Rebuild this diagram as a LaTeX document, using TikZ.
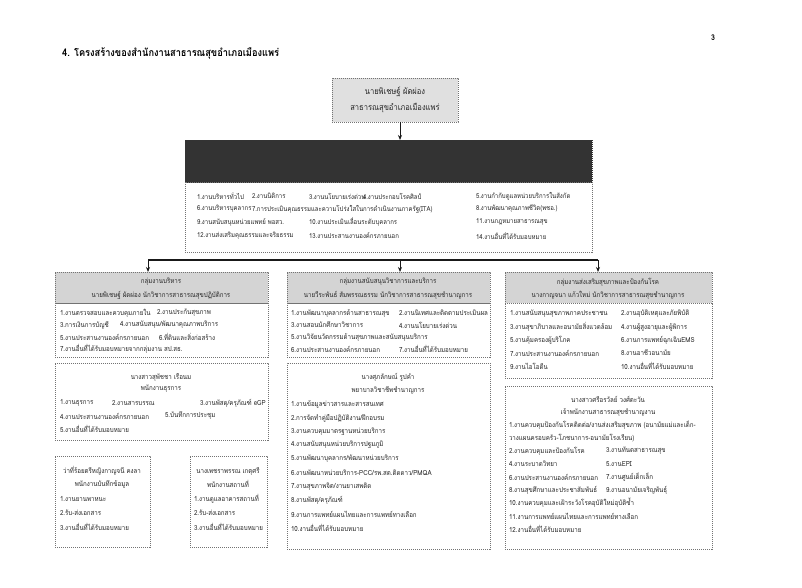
\documentclass[tikz,border=0pt]{standalone}
\usepackage{fontspec}
\setmainfont{Liberation Serif}
\newfontfamily\thai[Script=Thai,FakeStretch=0.88]{Loma}
\usetikzlibrary{arrows.meta}
\begin{document}
\begin{tikzpicture}[x=1pt,y=-1pt,
  tx/.style={font=\thai\fontsize{7.0}{8}\selectfont, inner sep=0pt, outer sep=0pt, anchor=west, text=black!85},
  txc/.style={tx, anchor=center},
  bx/.style={tx, font=\thai\fontsize{6.8}{8}\selectfont},
  frame/.style={draw=black!55, line width=0.6pt, dash pattern=on 1.2pt off 0.8pt, inner sep=0pt, outer sep=0pt, anchor=north west},
  band/.style={frame, fill=black!17},
  conn/.style={draw=black!90, line width=1.3pt},
  arr/.style={draw=black!90, line width=0.9pt, -{Stealth[length=5pt,width=4pt]}},
]
\useasboundingbox[fill=white] (0,0) rectangle (802,588);

% title and page number
\node[font=\thai\bfseries\fontsize{10.5}{12}\selectfont, anchor=west, inner sep=0pt] (title) at (62,53) {4. โครงสร้างของสำนักงานสาธารณสุขอำเภอเมืองแพร่};
\node[font=\thai\bfseries\fontsize{8}{9}\selectfont, inner sep=0pt] (page) at (713,38) {3};

% top box
\node[band, fill=black!12, minimum width=126, minimum height=44] (top) at (332,78) {};
\node[txc, font=\thai\fontsize{8.6}{10}\selectfont] (top1) at (395,92) {นายพิเชษฐ์  ผัดผ่อง};
\node[txc, font=\thai\fontsize{8.6}{10}\selectfont] (top2) at (395,108) {สาธารณสุขอำเภอเมืองแพร่};

% black bar and its list
\node[frame, fill=black!80, draw=black!80, minimum width=407, minimum height=42] (bar) at (185,140) {};
\node[frame, minimum width=407, minimum height=70] (barlist) at (185,182) {};
\coordinate (ax) at (400,130);
\draw[arr] (top.south -| ax) -- (bar.north -| ax);

\node[bx] (b1) at (197,196) {1.งานบริหารทั่วไป};
\node[bx] (b2) at (252,196) {2.งานนิติการ};
\node[bx] (b3) at (309,196) {3.งานนโยบายเร่งด่วน};
\node[bx] (b4) at (363,196) {4.งานประกอบโรคศิลป์};
\node[bx] (b5) at (476,196) {5.งานกำกับดูแลหน่วยบริการในสังกัด};
\node[bx] (b6) at (197,209) {6.งานบริหารบุคลากร};
\node[bx] (b7) at (252,209) {7.การประเมินคุณธรรมและความโปร่งใสในการดำเนินงานภาครัฐ(ITA)};
\node[bx] (b8) at (476,209) {8.งานพัฒนาคุณภาพชีวิต(พชอ.)};
\node[bx] (b9) at (197,222) {9.งานสนับสนุนหน่วยแพทย์ พอสว.};
\node[bx] (b10) at (309,222) {10.งานประเมินเลื่อนระดับบุคลากร};
\node[bx] (b11) at (476,222) {11.งานกฎหมายสาธารณสุข};
\node[bx] (b12) at (197,236) {12.งานส่งเสริมคุณธรรมและจริยธรรม};
\node[bx] (b13) at (309,236) {13.งานประสานงานองค์กรภายนอก};
\node[bx] (b14) at (476,236) {14.งานอื่นที่ได้รับมอบหมาย};

% group headers
\node[band, minimum width=213, minimum height=31] (lh) at (55,272) {};
\node[frame, minimum width=213, minimum height=54] (ll) at (55,303) {};
\node[band, minimum width=203, minimum height=31] (mh) at (287,272) {};
\node[frame, minimum width=203, minimum height=54] (ml) at (287,303) {};
\node[band, minimum width=207, minimum height=31] (rh) at (505,272) {};
\node[frame, minimum width=207, minimum height=75] (rl) at (505,303) {};

% connectors from the bar to the groups
\coordinate (jl) at (148,260);
\coordinate (jm) at (400,260);
\coordinate (jr) at (598,260);
\draw[conn] (jl) -- (jr);
\draw[arr] (jl) -- (lh.north -| jl);
\draw[arr] (jm) -- (mh.north -| jm);
\draw[arr] (jr) -- (rh.north -| jr);

% left group
\node[txc] (lh1) at (161,282) {กลุ่มงานบริหาร};
\node[txc] (lh2) at (161,295) {นายพิเชษฐ์  ผัดผ่อง  นักวิชาการสาธารณสุขปฏิบัติการ};
\node[tx] (l1) at (60,313) {1.งานตรวจสอบและควบคุมภายใน};
\node[tx] (l2) at (157,313) {2.งานประกันสุขภาพ};
\node[tx] (l3) at (60,325) {3.การเงินการบัญชี};
\node[tx] (l4) at (120,325) {4.งานสนับสนุน/พัฒนาคุณภาพบริการ};
\node[tx] (l5) at (60,337) {5.งานประสานงานองค์กรภายนอก};
\node[tx] (l6) at (159,337) {6.ที่ดินและสิ่งก่อสร้าง};
\node[tx] (l7) at (60,349) {7.งานอื่นที่ได้รับมอบหมายจากกลุ่มงาน สป.สธ.};

\node[frame, minimum width=213, minimum height=77] (lb) at (55,363) {};
\node[txc] (lb1) at (161,377) {นางสาวสุพัชชา  เรือนม};
\node[txc] (lb2) at (161,389) {พนักงานธุรการ};
\node[tx] (lb3) at (60,403) {1.งานธุรการ};
\node[tx] (lb4) at (112,403) {2.งานสารบรรณ};
\node[tx] (lb5) at (200,403) {3.งานพัสดุ/ครุภัณฑ์ eGP};
\node[tx] (lb6) at (60,416) {4.งานประสานงานองค์กรภายนอก};
\node[tx] (lb7) at (165,416) {5.บันทึกการประชุม};
\node[tx] (lb8) at (60,429) {5.งานอื่นที่ได้รับมอบหมาย};

\node[frame, minimum width=95, minimum height=91] (la) at (55,456) {};
\node[txc] (la1) at (102,471) {ว่าที่ร้อยตรีหญิงกาญจนี  คงลา};
\node[txc] (la2) at (102,484) {พนักงานบันทึกข้อมูล};
\node[tx] (la3) at (60,499) {1.งานยานพาหนะ};
\node[tx] (la4) at (60,513) {2.รับ-ส่งเอกสาร};
\node[tx] (la5) at (60,527) {3.งานอื่นที่ได้รับมอบหมาย};

\node[frame, minimum width=77, minimum height=91] (lc) at (190,456) {};
\node[txc] (lc1) at (228,471) {นางเพชราพรรณ  เกตุศรี};
\node[txc] (lc2) at (228,484) {พนักงานสถานที่};
\node[tx] (lc3) at (194,499) {1.งานดูแลอาคารสถานที่};
\node[tx] (lc4) at (194,513) {2.รับ-ส่งเอกสาร};
\node[tx] (lc5) at (194,527) {3.งานอื่นที่ได้รับมอบหมาย};

% middle group
\node[txc] (mh1) at (388,282) {กลุ่มงานสนับสนุนวิชาการและบริการ};
\node[txc] (mh2) at (388,295) {นายวีระพันธ์  สัมพรรณธรรม  นักวิชาการสาธารณสุขชำนาญการ};
\node[tx] (m1) at (291,313) {1.งานพัฒนาบุคลากรด้านสาธารณสุข};
\node[tx] (m2) at (399,313) {2.งานนิเทศและติดตามประเมินผล};
\node[tx] (m3) at (291,325) {3.งานสอนนักศึกษาวิชาการ};
\node[tx] (m4) at (399,325) {4.งานนโยบายเร่งด่วน};
\node[tx] (m5) at (291,337) {5.งานวิจัยนวัตกรรมด้านสุขภาพและสนับสนุนบริการ};
\node[tx] (m6) at (291,349) {6.งานประสานงานองค์กรภายนอก};
\node[tx] (m7) at (399,349) {7.งานอื่นที่ได้รับมอบหมาย};

\node[frame, minimum width=203, minimum height=186] (mb) at (287,363) {};
\node[txc] (mb1) at (388,377) {นางศุภลักษณ์  รูปคำ};
\node[txc] (mb2) at (388,390) {พยาบาลวิชาชีพชำนาญการ};
\node[tx] (mb3) at (291,404) {1.งานข้อมูลข่าวสารและสารสนเทศ};
\node[tx] (mb4) at (291,418) {2.การจัดทำคู่มือปฏิบัติงาน/ฝึกอบรม};
\node[tx] (mb5) at (291,432) {3.งานควบคุมมาตรฐานหน่วยบริการ};
\node[tx] (mb6) at (291,445) {4.งานสนับสนุนหน่วยบริการปฐมภูมิ};
\node[tx] (mb7) at (291,459) {5.งานพัฒนาบุคลากร/พัฒนาหน่วยบริการ};
\node[tx] (mb8) at (291,473) {6.งานพัฒนาหน่วยบริการ-PCC/รพ.สต.ติดดาว/PMQA};
\node[tx] (mb9) at (291,487) {7.งานสุขภาพจิต/งานยาเสพติด};
\node[tx] (mb10) at (291,500) {8.งานพัสดุ/ครุภัณฑ์};
\node[tx] (mb11) at (291,514) {9.งานการแพทย์แผนไทยและการแพทย์ทางเลือก};
\node[tx] (mb12) at (291,528) {10.งานอื่นที่ได้รับมอบหมาย};

% right group
\node[txc] (rh1) at (608,282) {กลุ่มงานส่งเสริมสุขภาพและป้องกันโรค};
\node[txc] (rh2) at (608,295) {นางกาญจนา  แก้วใหม่  นักวิชาการสาธารณสุขชำนาญการ};
\node[tx] (r1) at (510,314) {1.งานสนับสนุนสุขภาพภาคประชาชน};
\node[tx] (r2) at (621,314) {2.งานอุบัติเหตุและภัยพิบัติ};
\node[tx] (r3) at (510,327) {3.งานสุขาภิบาลและอนามัยสิ่งแวดล้อม};
\node[tx] (r4) at (621,327) {4.งานผู้สูงอายุและผู้พิการ};
\node[tx] (r5) at (510,340) {5.งานคุ้มครองผู้บริโภค};
\node[tx] (r6) at (621,340) {6.งานการแพทย์ฉุกเฉินEMS};
\node[tx] (r7) at (510,353) {7.งานประสานงานองค์กรภายนอก};
\node[tx] (r8) at (621,353) {8.งานอาชีวอนามัย};
\node[tx] (r9) at (510,366) {9.งานไอโอดีน};
\node[tx] (r10) at (621,366) {10.งานอื่นที่ได้รับมอบหมาย};

\node[frame, minimum width=207, minimum height=163] (rb) at (505,386) {};
\node[txc] (rb1) at (608,399) {นางสาวศรีอรวัลย์  วงศ์ตะวัน};
\node[txc] (rb2) at (608,412) {เจ้าพนักงานสาธารณสุขชำนาญงาน};
\node[tx] (rb3) at (509,425) {1.งานควบคุมป้องกันโรคติดต่อ/งานส่งเสริมสุขภาพ (อนามัยแม่และเด็ก-};
\node[tx] (rb4) at (509,438) {วางแผนครอบครัว-โภชนาการ-อนามัยโรงเรียน)};
\node[tx] (rb5) at (509,451) {2.งานควบคุมและป้องกันโรค};
\node[tx] (rb6) at (606,451) {3.งานทันตสาธารณสุข};
\node[tx] (rb7) at (509,464) {4.งานระบาดวิทยา};
\node[tx] (rb8) at (606,464) {5.งานEPI};
\node[tx] (rb9) at (509,477) {6.งานประสานงานองค์กรภายนอก};
\node[tx] (rb10) at (606,477) {7.งานศูนย์เด็กเล็ก};
\node[tx] (rb11) at (509,490) {8.งานสุขศึกษาและประชาสัมพันธ์};
\node[tx] (rb12) at (606,490) {9.งานอนามัยเจริญพันธุ์};
\node[tx] (rb13) at (509,503) {10.งานควบคุมและเฝ้าระวังโรคอุบัติใหม่อุบัติซ้ำ};
\node[tx] (rb14) at (509,516) {11.งานการแพทย์แผนไทยและการแพทย์ทางเลือก};
\node[tx] (rb15) at (509,529) {12.งานอื่นที่ได้รับมอบหมาย};
\end{tikzpicture}
\end{document}
